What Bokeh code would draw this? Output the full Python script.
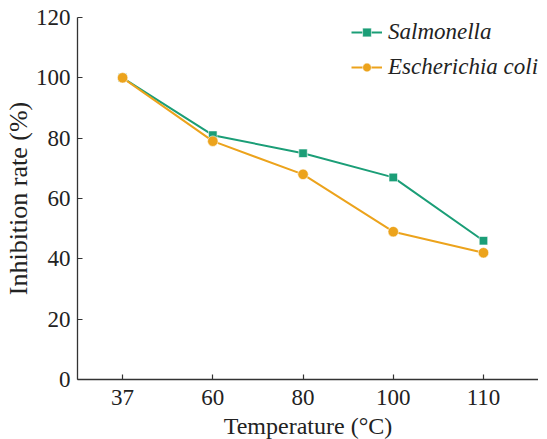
from bokeh.plotting import figure
from bokeh.models import Range1d, Legend, LegendItem, FixedTicker
from bokeh.embed import file_html
from bokeh.resources import INLINE

temperatures = ["37", "60", "80", "100", "110"]
salmonella = [100, 81, 75, 67, 46]
ecoli = [100, 79, 68, 49, 42]
y_ticks = [0, 20, 40, 60, 80, 100, 120]

GREEN = "#1b9e77"
ORANGE = "#eca31c"
FONT = "'Liberation Serif', 'Times New Roman', serif"

# evenly spaced categorical positions for the temperatures
xpos = list(range(len(temperatures)))

p = figure(frame_width=461, frame_height=362, output_backend="svg", toolbar_location=None,
           x_range=Range1d(-0.5, 4.61), y_range=Range1d(0, 120),
           min_border_left=72, min_border_right=0, min_border_top=17, min_border_bottom=50)
p.outline_line_color = None
p.grid.visible = False
p.background_fill_color = "white"

l1 = p.line(xpos, salmonella, line_color=GREEN, line_width=2)
s1 = p.scatter(xpos, salmonella, marker="square", size=8.5, fill_color=GREEN,
               line_color="white", line_width=0.6)
l2 = p.line(xpos, ecoli, line_color=ORANGE, line_width=2)
s2 = p.scatter(xpos, ecoli, marker="circle", size=10.5, fill_color=ORANGE,
               line_color="white", line_width=0.6)

p.xaxis.ticker = FixedTicker(ticks=xpos)
p.xaxis.major_label_overrides = {i: t for i, t in zip(xpos, temperatures)}
p.yaxis.ticker = FixedTicker(ticks=y_ticks)
for ax in (p.xaxis[0], p.yaxis[0]):
    ax.axis_line_color = "#333333"
    ax.axis_line_width = 1.3
    ax.major_tick_line_color = "#333333"
    ax.major_tick_line_width = 1.2
    ax.major_tick_in = 5
    ax.major_tick_out = 0
    ax.minor_tick_line_color = None
    ax.major_label_text_font = FONT
    ax.major_label_text_font_size = "23px"
    ax.major_label_text_color = "#222222"
    ax.axis_label_text_font = FONT
    ax.axis_label_text_font_style = "normal"
    ax.axis_label_text_color = "#222222"

p.xaxis.axis_label = "Temperature (°C)"
p.yaxis.axis_label = "Inhibition rate (%)"
p.xaxis.axis_label_text_font_size = "24px"
p.yaxis.axis_label_text_font_size = "26px"
p.xaxis.major_label_standoff = 10
p.xaxis.axis_label_standoff = 5
p.yaxis.major_label_standoff = 7
p.yaxis.axis_label_standoff = 0

legend = Legend(items=[LegendItem(label="Salmonella", renderers=[l1, s1]),
                       LegendItem(label="Escherichia coli", renderers=[l2, s2])],
                location=(274, 299))
legend.border_line_color = None
legend.background_fill_alpha = 0
legend.padding = 0
legend.margin = 0
legend.spacing = 8
legend.glyph_width = 31
legend.glyph_height = 22
legend.label_height = 27
legend.label_standoff = 6
legend.label_text_font = FONT
legend.label_text_font_size = "23px"
legend.label_text_font_style = "italic"
legend.label_text_color = "#222222"
p.add_layout(legend)

open("out.html", "w").write(file_html(p, INLINE))
